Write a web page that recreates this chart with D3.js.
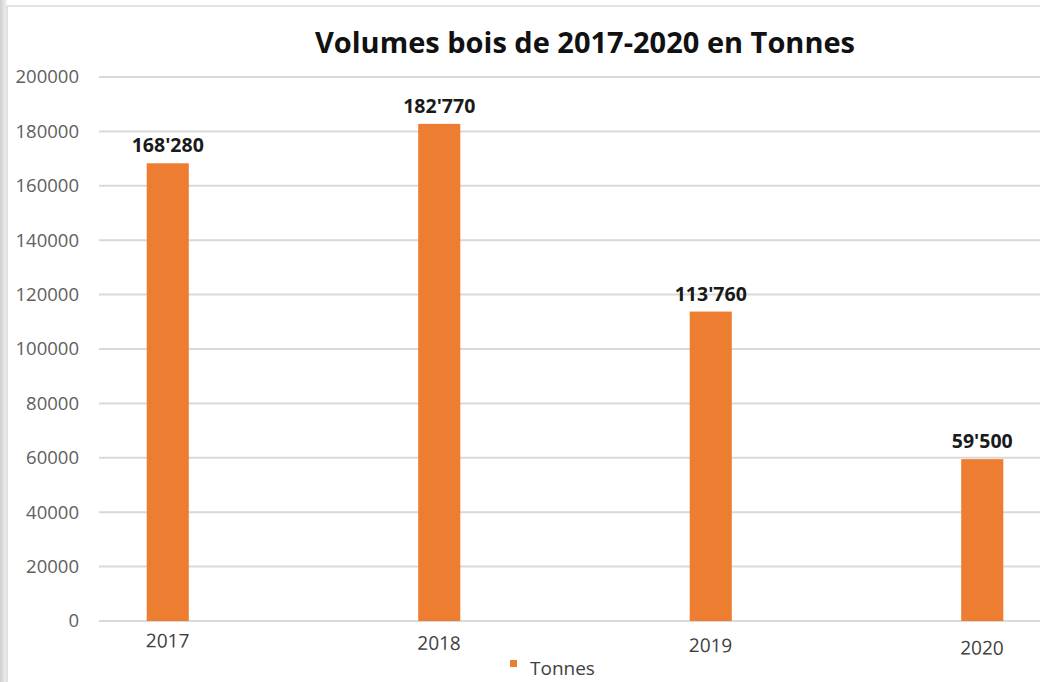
<!DOCTYPE html>
<html>
<head>
<meta charset="utf-8">
<script src="https://cdn.jsdelivr.net/npm/d3@7"></script>
<style>
  body { margin: 0; background: #fff; }
  svg { display: block; }
</style>
</head>
<body>
<div id="app"></div>
<script>
// data
const years = ["2017", "2018", "2019", "2020"];
const tonnes = [168280, 182770, 113760, 59500];
const yTicks = [0, 20000, 40000, 60000, 80000, 100000, 120000, 140000, 160000, 180000, 200000];
const seriesName = "Tonnes";
const title = "Volumes bois de 2017-2020 en Tonnes";

const width = 1040, height = 682;
const font = "'Open Sans', sans-serif";

const svg = d3.select("#app").append("svg")
    .attr("width", width)
    .attr("height", height);

// faint shadow on the left edge + frame lines
const defs = svg.append("defs");
const grad = defs.append("linearGradient").attr("id", "shade")
    .attr("x1", "0").attr("x2", "1").attr("y1", "0").attr("y2", "0");
grad.append("stop").attr("offset", "0").attr("stop-color", "#cfcfcf");
grad.append("stop").attr("offset", "1").attr("stop-color", "#f4f4f4");
svg.append("rect").attr("x", 0).attr("y", 0).attr("width", 7).attr("height", height)
    .attr("fill", "url(#shade)");
svg.append("line").attr("x1", 7).attr("x2", 7).attr("y1", 6).attr("y2", height)
    .attr("stroke", "#d9d9d9").attr("stroke-width", 1.5);
svg.append("line").attr("x1", 7).attr("x2", width).attr("y1", 6).attr("y2", 6)
    .attr("stroke", "#d9d9d9").attr("stroke-width", 1.5);

// scales
let y = d3.scaleLinear()
    .domain([0, 200000])
    .range([621, 77]);

let x = d3.scaleBand()
    .domain(years)
    .range([32, 1118])
    .paddingInner(0.845)
    .paddingOuter(0.4225);

// gridlines
svg.append("g").attr("class", "grid")
    .selectAll("line")
    .data(yTicks)
    .enter().append("line")
        .attr("x1", 99)
        .attr("x2", width)
        .attr("y1", d => y(d))
        .attr("y2", d => y(d))
        .attr("stroke", "#d9d9d9")
        .attr("stroke-width", 2);

// y axis
let yAxis = svg.append("g")
    .attr("class", "axisleft")
    .attr("transform", "translate(88,0)")
    .call(d3.axisLeft(y).tickValues(yTicks).tickSize(0).tickPadding(9).tickFormat(d3.format("d")));
yAxis.select(".domain").remove();
yAxis.selectAll("text")
    .attr("fill", "#606060")
    .style("font-family", font)
    .style("font-size", "18.5px");

// bars
svg.append("g").attr("class", "bars")
    .selectAll("rect")
    .data(years)
    .enter().append("rect")
        .attr("x", (d) => x(d))
        .attr("y", (d, i) => y(tonnes[i]))
        .attr("width", x.bandwidth())
        .attr("height", (d, i) => y(0) - y(tonnes[i]))
        .attr("fill", "#ed7d31");

// value labels, 168'280 style
const fmt = d3.formatLocale({ decimal: ".", thousands: "'", grouping: [3], currency: ["", ""] }).format(",");
svg.append("g").attr("class", "labels")
    .selectAll("text")
    .data(years)
    .enter().append("text")
        .attr("x", d => x(d) + x.bandwidth() / 2)
        .attr("y", (d, i) => y(tonnes[i]) - 11)
        .attr("text-anchor", "middle")
        .attr("fill", "#1a1a1a")
        .style("font-family", font)
        .style("font-weight", "bold")
        .style("font-size", "19.5px")
        .text((d, i) => fmt(tonnes[i]));

// x axis (picture is a touch tilted)
let xAxis = svg.append("g")
    .attr("class", "axisbottom")
    .attr("transform", "translate(0,621) rotate(0.5,168,0)")
    .call(d3.axisBottom(x).tickSize(0).tickPadding(13));
xAxis.select(".domain").remove();
xAxis.selectAll("text")
    .attr("fill", "#404040")
    .style("font-family", font)
    .style("font-size", "19px");

// title
svg.append("text")
    .attr("x", 585)
    .attr("y", 53)
    .attr("text-anchor", "middle")
    .attr("fill", "#111")
    .style("font-family", font)
    .style("font-weight", "bold")
    .style("font-size", "29px")
    .text(title);

// legend
let legend = svg.append("g").attr("transform", "translate(510,668)");
legend.append("rect").attr("x", 0).attr("y", -8).attr("width", 7).attr("height", 7).attr("fill", "#ed7d31");
legend.append("text")
    .attr("x", 20).attr("y", 0)
    .attr("dy", "0.35em")
    .attr("fill", "#404040")
    .style("font-family", font)
    .style("font-size", "19px")
    .text(seriesName);
</script>
</body>
</html>
